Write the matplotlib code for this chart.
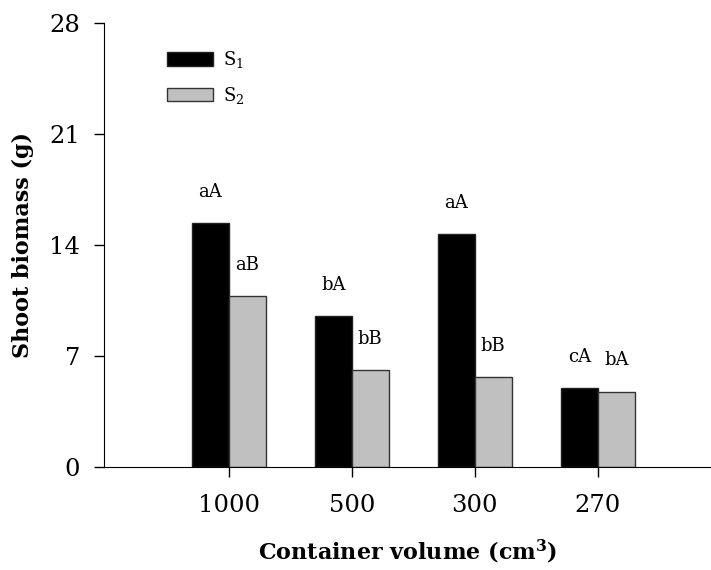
import numpy as np
import matplotlib
matplotlib.use("Agg")
import matplotlib.pyplot as plt

# data
volumes = ["1000", "500", "300", "270"]
s1 = [15.4, 9.55, 14.7, 5.0]
s2 = [10.8, 6.15, 5.7, 4.78]
s1_letters = ["aA", "bA", "aA", "cA"]
s2_letters = ["aB", "bB", "bB", "bA"]

plt.rcParams['font.family'] = ['DejaVu Serif']
plt.rcParams['mathtext.default'] = 'regular'

fig = plt.figure(figsize=(7.11, 5.70), dpi=100)
ax = fig.add_axes([0.146, 0.180, 0.854, 0.779])

x = np.arange(len(volumes))
w = 0.30
b1 = ax.bar(x - w / 2, s1, w, color='black', edgecolor='#222222', lw=1, label='S$_1$')
b2 = ax.bar(x + w / 2, s2, w, color='#c0c0c0', edgecolor='#333333', lw=1, label='S$_2$')

for bars, letters in [(b1, s1_letters), (b2, s2_letters)]:
    for r, t in zip(bars, letters):
        ax.annotate(t, (r.get_x() + r.get_width() / 2, r.get_height()),
                    xytext=(0, 16), textcoords='offset points',
                    ha='center', va='bottom', fontsize=13)

ax.set_xlim(-1.016, 3.92)
ax.set_ylim(0, 28)
ax.set_yticks([0, 7, 14, 21, 28])
ax.set_xticks(x)
ax.set_xticklabels(volumes)
ax.tick_params(axis='both', labelsize=17.5, direction='out', length=7, width=1)
ax.tick_params(axis='x', pad=12)
ax.tick_params(axis='y', pad=10)
ax.spines['top'].set_visible(False)
ax.spines['right'].set_visible(False)

ax.set_ylabel('Shoot biomass (g)', fontsize=16, fontweight='bold', labelpad=11)
ax.set_xlabel('Container volume (cm$^3$)', fontsize=16, fontweight='bold', labelpad=15)

ax.legend(loc='upper left', bbox_to_anchor=(0.09, 0.962), frameon=False,
          fontsize=13, handlelength=2.5, handleheight=0.75, labelspacing=0.8,
          handletextpad=0.6, borderpad=0)

fig.savefig('out.png', dpi=100)
